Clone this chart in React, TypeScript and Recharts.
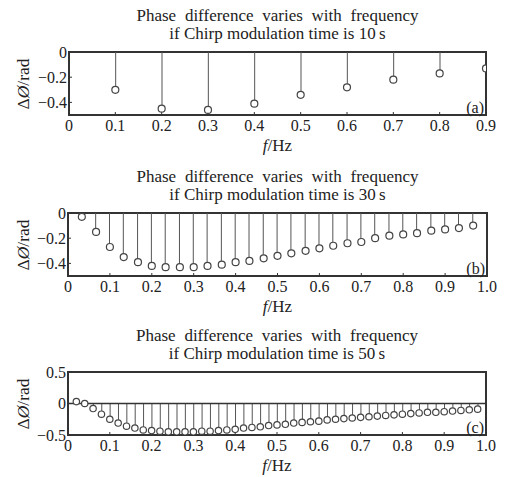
// PhaseStemCharts — three stem plots of phase difference vs frequency
import React from 'react';
import {
  ComposedChart,
  Bar,
  Scatter,
  XAxis,
  YAxis,
  ReferenceArea,
  ReferenceLine,
} from 'recharts';

const FONT = '"Liberation Serif", "Times New Roman", serif';
const INK = '#222';

const freqA = [0.1, 0.2, 0.3, 0.4, 0.5, 0.6, 0.7, 0.8, 0.9];
const phaseA = [-0.3, -0.45, -0.46, -0.41, -0.34, -0.28, -0.22, -0.17, -0.13];

const freqB = [
  0.033, 0.067, 0.1, 0.133, 0.167, 0.2, 0.233, 0.267, 0.3, 0.333, 0.367, 0.4, 0.433, 0.467, 0.5,
  0.533, 0.567, 0.6, 0.633, 0.667, 0.7, 0.733, 0.767, 0.8, 0.833, 0.867, 0.9, 0.933, 0.967,
];
const phaseB = [
  -0.03, -0.15, -0.27, -0.35, -0.39, -0.42, -0.43, -0.43, -0.43, -0.42, -0.41, -0.39, -0.38, -0.36,
  -0.34, -0.32, -0.3, -0.28, -0.26, -0.24, -0.23, -0.2, -0.18, -0.17, -0.16, -0.14, -0.13, -0.12,
  -0.1,
];

const freqC = [
  0.02, 0.04, 0.06, 0.08, 0.1, 0.12, 0.14, 0.16, 0.18, 0.2, 0.22, 0.24, 0.26, 0.28, 0.3, 0.32, 0.34,
  0.36, 0.38, 0.4, 0.42, 0.44, 0.46, 0.48, 0.5, 0.52, 0.54, 0.56, 0.58, 0.6, 0.62, 0.64, 0.66, 0.68,
  0.7, 0.72, 0.74, 0.76, 0.78, 0.8, 0.82, 0.84, 0.86, 0.88, 0.9, 0.92, 0.94, 0.96, 0.98,
];
const phaseC = [
  0.03, 0.0, -0.08, -0.17, -0.25, -0.31, -0.36, -0.39, -0.42, -0.43, -0.44, -0.45, -0.45, -0.45,
  -0.45, -0.44, -0.44, -0.43, -0.42, -0.41, -0.39, -0.38, -0.37, -0.35, -0.34, -0.33, -0.31, -0.3,
  -0.29, -0.28, -0.26, -0.25, -0.24, -0.23, -0.22, -0.21, -0.2, -0.19, -0.18, -0.17, -0.16, -0.15,
  -0.14, -0.14, -0.13, -0.12, -0.11, -0.1, -0.09,
];

const ticksX9 = [0, 0.1, 0.2, 0.3, 0.4, 0.5, 0.6, 0.7, 0.8, 0.9];
const ticksX10 = [0, 0.1, 0.2, 0.3, 0.4, 0.5, 0.6, 0.7, 0.8, 0.9, 1.0];
const ticksYAB = [-0.4, -0.2, 0];
const ticksYC = [-0.5, 0, 0.5];

const titleLine1 = 'Phase difference varies with frequency';

function fmt(v: number): string {
  if (v === 0) return '0';
  return v.toFixed(1).replace('-', '\u2212');
}

interface PanelProps {
  top: number;
  freq: number[];
  phase: number[];
  xMax: number;
  xTicks: number[];
  yDomain: [number, number];
  yTicks: number[];
  title2: string;
  tag: string;
  plotTop: number;
  plotLeft: number;
  plotRight: number;
  r: number;
  zeroLine?: boolean;
}

function StemPanel(p: PanelProps) {
  const data = p.freq.map((f, i) => ({ f, v: p.phase[i] }));
  const plotH = 63;
  const axisH = 30;
  const h = p.plotTop + plotH + axisH + 4;
  const yAxisW = 40;

  return (
    <div style={{ position: 'absolute', left: 0, top: p.top, width: 511, height: h }}>
      <div
        style={{
          position: 'absolute',
          left: p.plotLeft - 100,
          width: p.plotRight - p.plotLeft + 200,
          top: p.plotTop - 45,
          textAlign: 'center',
          fontSize: 17,
          lineHeight: '18px',
          color: INK,
          fontFamily: FONT,
        }}
      >
        <span style={{ wordSpacing: 4.5 }}>{titleLine1}</span>
        <br />
        {p.title2}
      </div>
      <ComposedChart
        width={511}
        height={h}
        data={data}
        margin={{ top: p.plotTop, right: 511 - p.plotRight, bottom: h - p.plotTop - plotH - axisH, left: p.plotLeft - yAxisW }}
      >
        <XAxis
          dataKey="f"
          type="number"
          domain={[0, p.xMax]}
          ticks={p.xTicks}
          tickFormatter={fmt}
          height={axisH}
          tickSize={-3}
          tickMargin={8}
          axisLine={false}
          tickLine={{ stroke: '#333' }}
          tick={{ fill: INK, fontSize: 16, fontFamily: FONT }}
          allowDataOverflow
        />
        <YAxis
          type="number"
          domain={p.yDomain}
          ticks={p.yTicks}
          tickFormatter={fmt}
          width={yAxisW}
          tickSize={-3}
          tickMargin={5}
          axisLine={false}
          tickLine={{ stroke: '#333' }}
          tick={{ fill: INK, fontSize: 16, fontFamily: FONT }}
          allowDataOverflow
        />
        {p.zeroLine && <ReferenceLine y={0} stroke="#333" strokeWidth={1.5} />}
        <Bar dataKey="v" barSize={1} fill="#555" isAnimationActive={false} />
        <Scatter
          dataKey="v"
          isAnimationActive={false}
          shape={(s: any) => (
            <circle cx={s.cx} cy={s.cy} r={p.r} fill="#fff" stroke="#444" strokeWidth={1.2} />
          )}
        />
        <ReferenceArea
          x1={0}
          x2={p.xMax}
          y1={p.yDomain[0]}
          y2={p.yDomain[1]}
          fill="none"
          stroke="#333"
          strokeWidth={2}
          label={{ value: p.tag, position: 'insideBottomRight', offset: 2, fill: INK, fontSize: 16, fontFamily: FONT }}
        />
      </ComposedChart>
      <div
        style={{
          position: 'absolute',
          left: 23 - 40,
          width: 80,
          top: p.plotTop + plotH / 2 - 10,
          height: 20,
          lineHeight: '20px',
          textAlign: 'center',
          transform: 'rotate(-90deg)',
          fontSize: 17.5,
          color: INK,
          fontFamily: FONT,
        }}
      >
        Δ<i>Ø</i>/rad
      </div>
      <div
        style={{
          position: 'absolute',
          left: p.plotLeft,
          width: p.plotRight - p.plotLeft,
          top: p.plotTop + plotH + 21,
          textAlign: 'center',
          fontSize: 17,
          lineHeight: '20px',
          color: INK,
          fontFamily: FONT,
        }}
      >
        <i>f</i>/Hz
      </div>
    </div>
  );
}

export default function App() {
  return (
    <div
      style={{
        position: 'absolute',
        left: 0,
        top: 0,
        width: 511,
        height: 477,
        background: '#fff',
        overflow: 'hidden',
      }}
    >
      <StemPanel
        top={0}
        freq={freqA}
        phase={phaseA}
        xMax={0.9}
        xTicks={ticksX9}
        yDomain={[-0.5, 0]}
        yTicks={ticksYAB}
        title2={'if Chirp modulation time is 10\u2009s'}
        tag="(a)"
        plotTop={52}
        plotLeft={69}
        plotRight={486}
        r={3.5}
      />
      <StemPanel
        top={150}
        freq={freqB}
        phase={phaseB}
        xMax={1.0}
        xTicks={ticksX10}
        yDomain={[-0.5, 0]}
        yTicks={ticksYAB}
        title2={'if Chirp modulation time is 30\u2009s'}
        tag="(b)"
        plotTop={63}
        plotLeft={68}
        plotRight={487}
        r={3.5}
      />
      <StemPanel
        top={310}
        freq={freqC}
        phase={phaseC}
        xMax={1.0}
        xTicks={ticksX10}
        yDomain={[-0.5, 0.5]}
        yTicks={ticksYC}
        title2={'if Chirp modulation time is 50\u2009s'}
        tag="(c)"
        plotTop={62}
        plotLeft={68}
        plotRight={486}
        r={3.2}
        zeroLine
      />
    </div>
  );
}
